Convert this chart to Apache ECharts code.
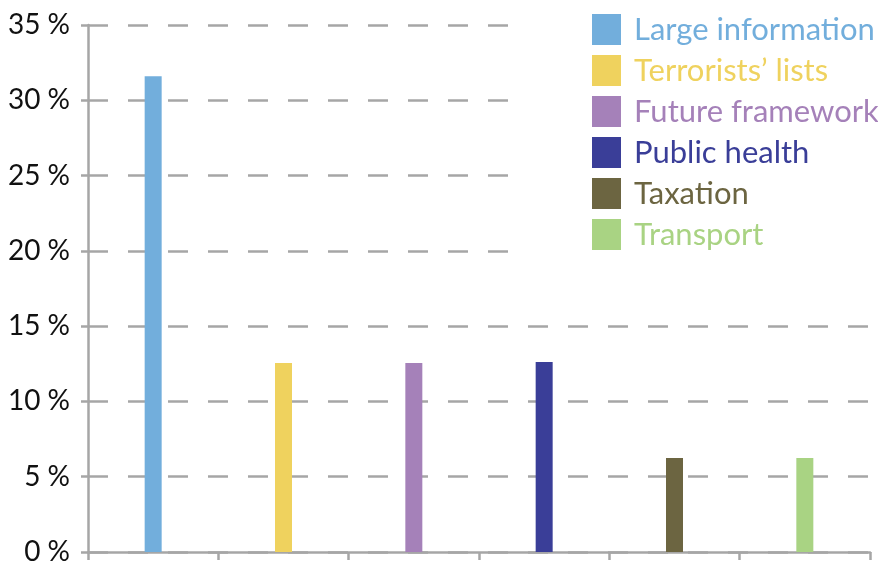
<!DOCTYPE html>
<html><head><meta charset="utf-8">
<script src="https://cdn.jsdelivr.net/npm/echarts@6/dist/echarts.min.js"></script>
<style>html,body{margin:0;padding:0;background:#fff}#c{width:878px;height:566px}</style>
</head><body><div id="c"></div>
<script>
const categories = ['Large information', 'Terrorists\u2019 lists', 'Future framework', 'Public health', 'Taxation', 'Transport'];
const values = [31.6, 12.55, 12.55, 12.62, 6.24, 6.24];
const colors = ['#72AEDC', '#EFD25E', '#A581B9', '#3A3E98', '#6C6541', '#A9D383'];
const yTicks = [0, 5, 10, 15, 20, 25, 30, 35];

const FONT = 'Lato, "Open Sans", sans-serif';
const series = categories.map((name, i) => ({
  name: name,
  type: 'bar',
  stack: 'all',
  barWidth: 17,
  itemStyle: { color: colors[i] },
  data: categories.map((c, j) => (j === i ? values[i] : null))
}));

const chart = echarts.init(document.getElementById('c'), null, { renderer: 'canvas' });
chart.setOption({
  animation: false,
  backgroundColor: '#fff',
  grid: { left: 88, right: 8, top: 25, bottom: 14, containLabel: false },
  legend: {
    orient: 'vertical',
    left: 527,
    top: 0,
    padding: [14, 0, 12, 65],
    backgroundColor: '#fff',
    itemWidth: 29,
    itemHeight: 31,
    itemGap: 10,
    icon: 'rect',
    textStyle: { fontFamily: FONT, fontSize: 31, padding: [0, 0, 0, 8] },
    data: categories.map((n, i) => ({ name: n, textStyle: { color: colors[i] } }))
  },
  xAxis: {
    type: 'category',
    data: categories,
    boundaryGap: true,
    axisLine: { lineStyle: { color: '#a6a6a6', width: 2.5 } },
    axisTick: { show: true, length: 8, inside: false, lineStyle: { color: '#a6a6a6', width: 2.5 } },
    axisLabel: { show: false },
    splitLine: { show: false }
  },
  yAxis: {
    type: 'value',
    min: 0, max: 35, interval: 5,
    axisLine: { show: true, lineStyle: { color: '#a6a6a6', width: 2.5 } },
    axisTick: { show: true, length: 7, lineStyle: { color: '#a6a6a6', width: 2.5 } },
    axisLabel: {
      margin: 18,
      color: '#111',
      fontFamily: FONT,
      fontSize: 28,
      formatter: v => (yTicks.includes(v) ? v + ' %' : '')
    },
    splitLine: { show: true, lineStyle: { color: '#a6a6a6', width: 2.5, type: [20, 20] } }
  },
  series: series
});
</script></body></html>
